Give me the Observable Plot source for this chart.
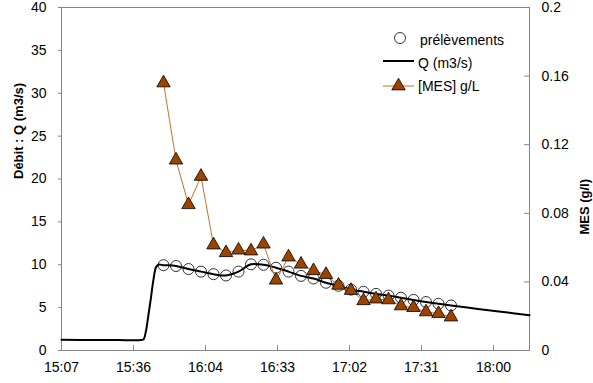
<!DOCTYPE html>
<html><head><meta charset="utf-8">
<script src="https://cdn.jsdelivr.net/npm/d3@7"></script>
<script src="https://cdn.jsdelivr.net/npm/@observablehq/plot@0.6"></script>
<style>
body{margin:0;background:#fff;}
#wrap{position:relative;width:593px;height:383px;font-family:"Liberation Sans",Arial,sans-serif;}
#legend{position:absolute;left:0;top:0;pointer-events:none;}
</style></head><body><div id="wrap"></div>
<script>
// Continuous discharge Q (m3/s)
const qTimes = ["15:07:12","15:20","15:30","15:38","15:39","15:40","15:41","15:42","15:43","15:44","15:45","15:46",
  "15:48","15:53","15:58","16:03","16:08","16:13","16:18","16:23","16:28","16:33","16:38","16:43","16:48","16:53",
  "16:58","17:03","17:08","17:13","17:18","17:23","17:28","17:33","17:38","17:43","17:53","18:03","18:14:24"];
const qValues = [1.25,1.23,1.21,1.2,1.22,1.3,2.3,4.2,6.2,8.3,9.7,10.0,
  9.95,9.85,9.5,9.2,8.9,8.75,9.2,10.05,10.0,9.65,9.2,8.7,8.4,7.9,
  7.55,7.1,6.85,6.6,6.4,6.15,5.9,5.65,5.45,5.25,4.88,4.52,4.12];
// Samples (prélèvements)
const sampleTimes = ["15:48","15:53","15:58","16:03","16:08","16:13","16:18","16:23","16:28","16:33","16:38","16:43",
  "16:48","16:53","16:58","17:03","17:08","17:13","17:18","17:23","17:28","17:33","17:38","17:43"];
const sampleQ = [9.95,9.85,9.5,9.2,8.9,8.75,9.2,10.05,10.0,9.65,9.2,8.7,
  8.4,7.9,7.55,7.1,6.85,6.6,6.4,6.15,5.9,5.65,5.45,5.25];
const sampleMES = [0.156,0.111,0.085,0.1015,0.0615,0.057,0.0585,0.058,0.062,0.041,0.0545,0.0503,
  0.0465,0.0443,0.038,0.035,0.029,0.030,0.0295,0.026,0.025,0.0225,0.0215,0.0195];
// Axes
const xTickDays = [0.63,0.65,0.67,0.69,0.71,0.73,0.75];
const xTickLabels = ["15:07","15:36","16:04","16:33","17:02","17:31","18:00"];
const xDomain = [0.63,0.76];
const leftTicks = [0,5,10,15,20,25,30,35,40];
const rightTicks = [0,0.04,0.08,0.12,0.16,0.2];
const rightTickLabels = ["0","0.04","0.08","0.12","0.16","0.2"];
const mesToQ = 200; // 0.2 g/l <-> 40 m3/s

const toDay = s => { const [h,m,sec=0] = s.split(":").map(Number); return (h*60+m+sec/60)/1440; };
const qData = qTimes.map((t,i)=>({x:toDay(t), y:qValues[i]}));
const sData = sampleTimes.map((t,i)=>({x:toDay(t), q:sampleQ[i], mes:sampleMES[i]*mesToQ}));

const grey = "#868686";
const W = 593, H = 383, mL = 61, mR = 64, mT = 7, mB = 33;
const frameW = W-mL-mR, frameH = H-mT-mB;

const chart = Plot.plot({
  width: W, height: H, marginLeft: mL, marginRight: mR, marginTop: mT, marginBottom: mB,
  style: {fontFamily: "'Liberation Sans', Arial, sans-serif", fontSize: "14px", color: "black", background: "white"},
  x: {type: "linear", domain: xDomain},
  y: {domain: [0,40]},
  marks: [
    Plot.frame({stroke: grey}),
    Plot.axisX(xTickDays, {anchor: "bottom", tickSize: 0, tickPadding: 12,
      tickFormat: d => xTickLabels[xTickDays.indexOf(d)], label: null}),
    Plot.ruleX(xTickDays, {stroke: grey, insetTop: frameH-5}),
    Plot.axisY(leftTicks, {anchor: "left", tickSize: 3, tickPadding: 12, stroke: grey, fill: "black", label: null}),
    Plot.axisY(rightTicks.map(v=>v*mesToQ), {anchor: "right", tickSize: 0, tickPadding: 12,
      tickFormat: d => rightTickLabels[rightTicks.findIndex(v=>Math.abs(v*mesToQ-d)<1e-9)], label: null}),
    Plot.ruleY(rightTicks.map(v=>v*mesToQ), {stroke: grey, insetLeft: frameW-5}),
    Plot.text(["Débit : Q (m3/s)"], {frameAnchor: "left", dx: -42.5, rotate: -90, fontWeight: "bold", fontSize: 13}),
    Plot.text(["MES (g/l)"], {frameAnchor: "right", dx: 55, rotate: -90, fontWeight: "bold", fontSize: 13}),
    Plot.line(qData, {x: "x", y: "y", stroke: "black", strokeWidth: 2, curve: "catmull-rom"}),
    Plot.dot(sData, {x: "x", y: "q", r: 5.5, stroke: "black", strokeWidth: 0.8, fill: "none"}),
    Plot.line(sData, {x: "x", y: "mes", stroke: "#c8702a", strokeWidth: 1}),
    Plot.dot(sData, {x: "x", y: "mes", symbol: "triangle", r: 5, fill: "#9c4300", stroke: "black", strokeWidth: 0.8})
  ]
});
const wrap = document.getElementById("wrap");
wrap.appendChild(chart);

// Legend overlay
const ns = "http://www.w3.org/2000/svg";
const lg = document.createElementNS(ns, "svg");
lg.setAttribute("id","legend"); lg.setAttribute("width", W); lg.setAttribute("height", H);
lg.innerHTML = `
  <circle cx="400" cy="38" r="5.5" fill="none" stroke="black" stroke-width="0.8"/>
  <text x="420" y="40" dy="0.35em" font-size="14" font-family="'Liberation Sans', Arial, sans-serif">prélèvements</text>
  <line x1="383" x2="414" y1="61" y2="61" stroke="black" stroke-width="2"/>
  <text x="418" y="63" dy="0.35em" font-size="14" font-family="'Liberation Sans', Arial, sans-serif">Q (m3/s)</text>
  <line x1="383" x2="414" y1="86" y2="86" stroke="#c8702a" stroke-width="1"/>
  <path transform="translate(398.5,86)" d="${d3.symbol(d3.symbolTriangle, 25*Math.PI)()}" fill="#9c4300" stroke="black" stroke-width="0.8"/>
  <text x="418" y="86" dy="0.35em" font-size="14" font-family="'Liberation Sans', Arial, sans-serif">[MES] g/L</text>`;
wrap.appendChild(lg);
</script></body></html>
